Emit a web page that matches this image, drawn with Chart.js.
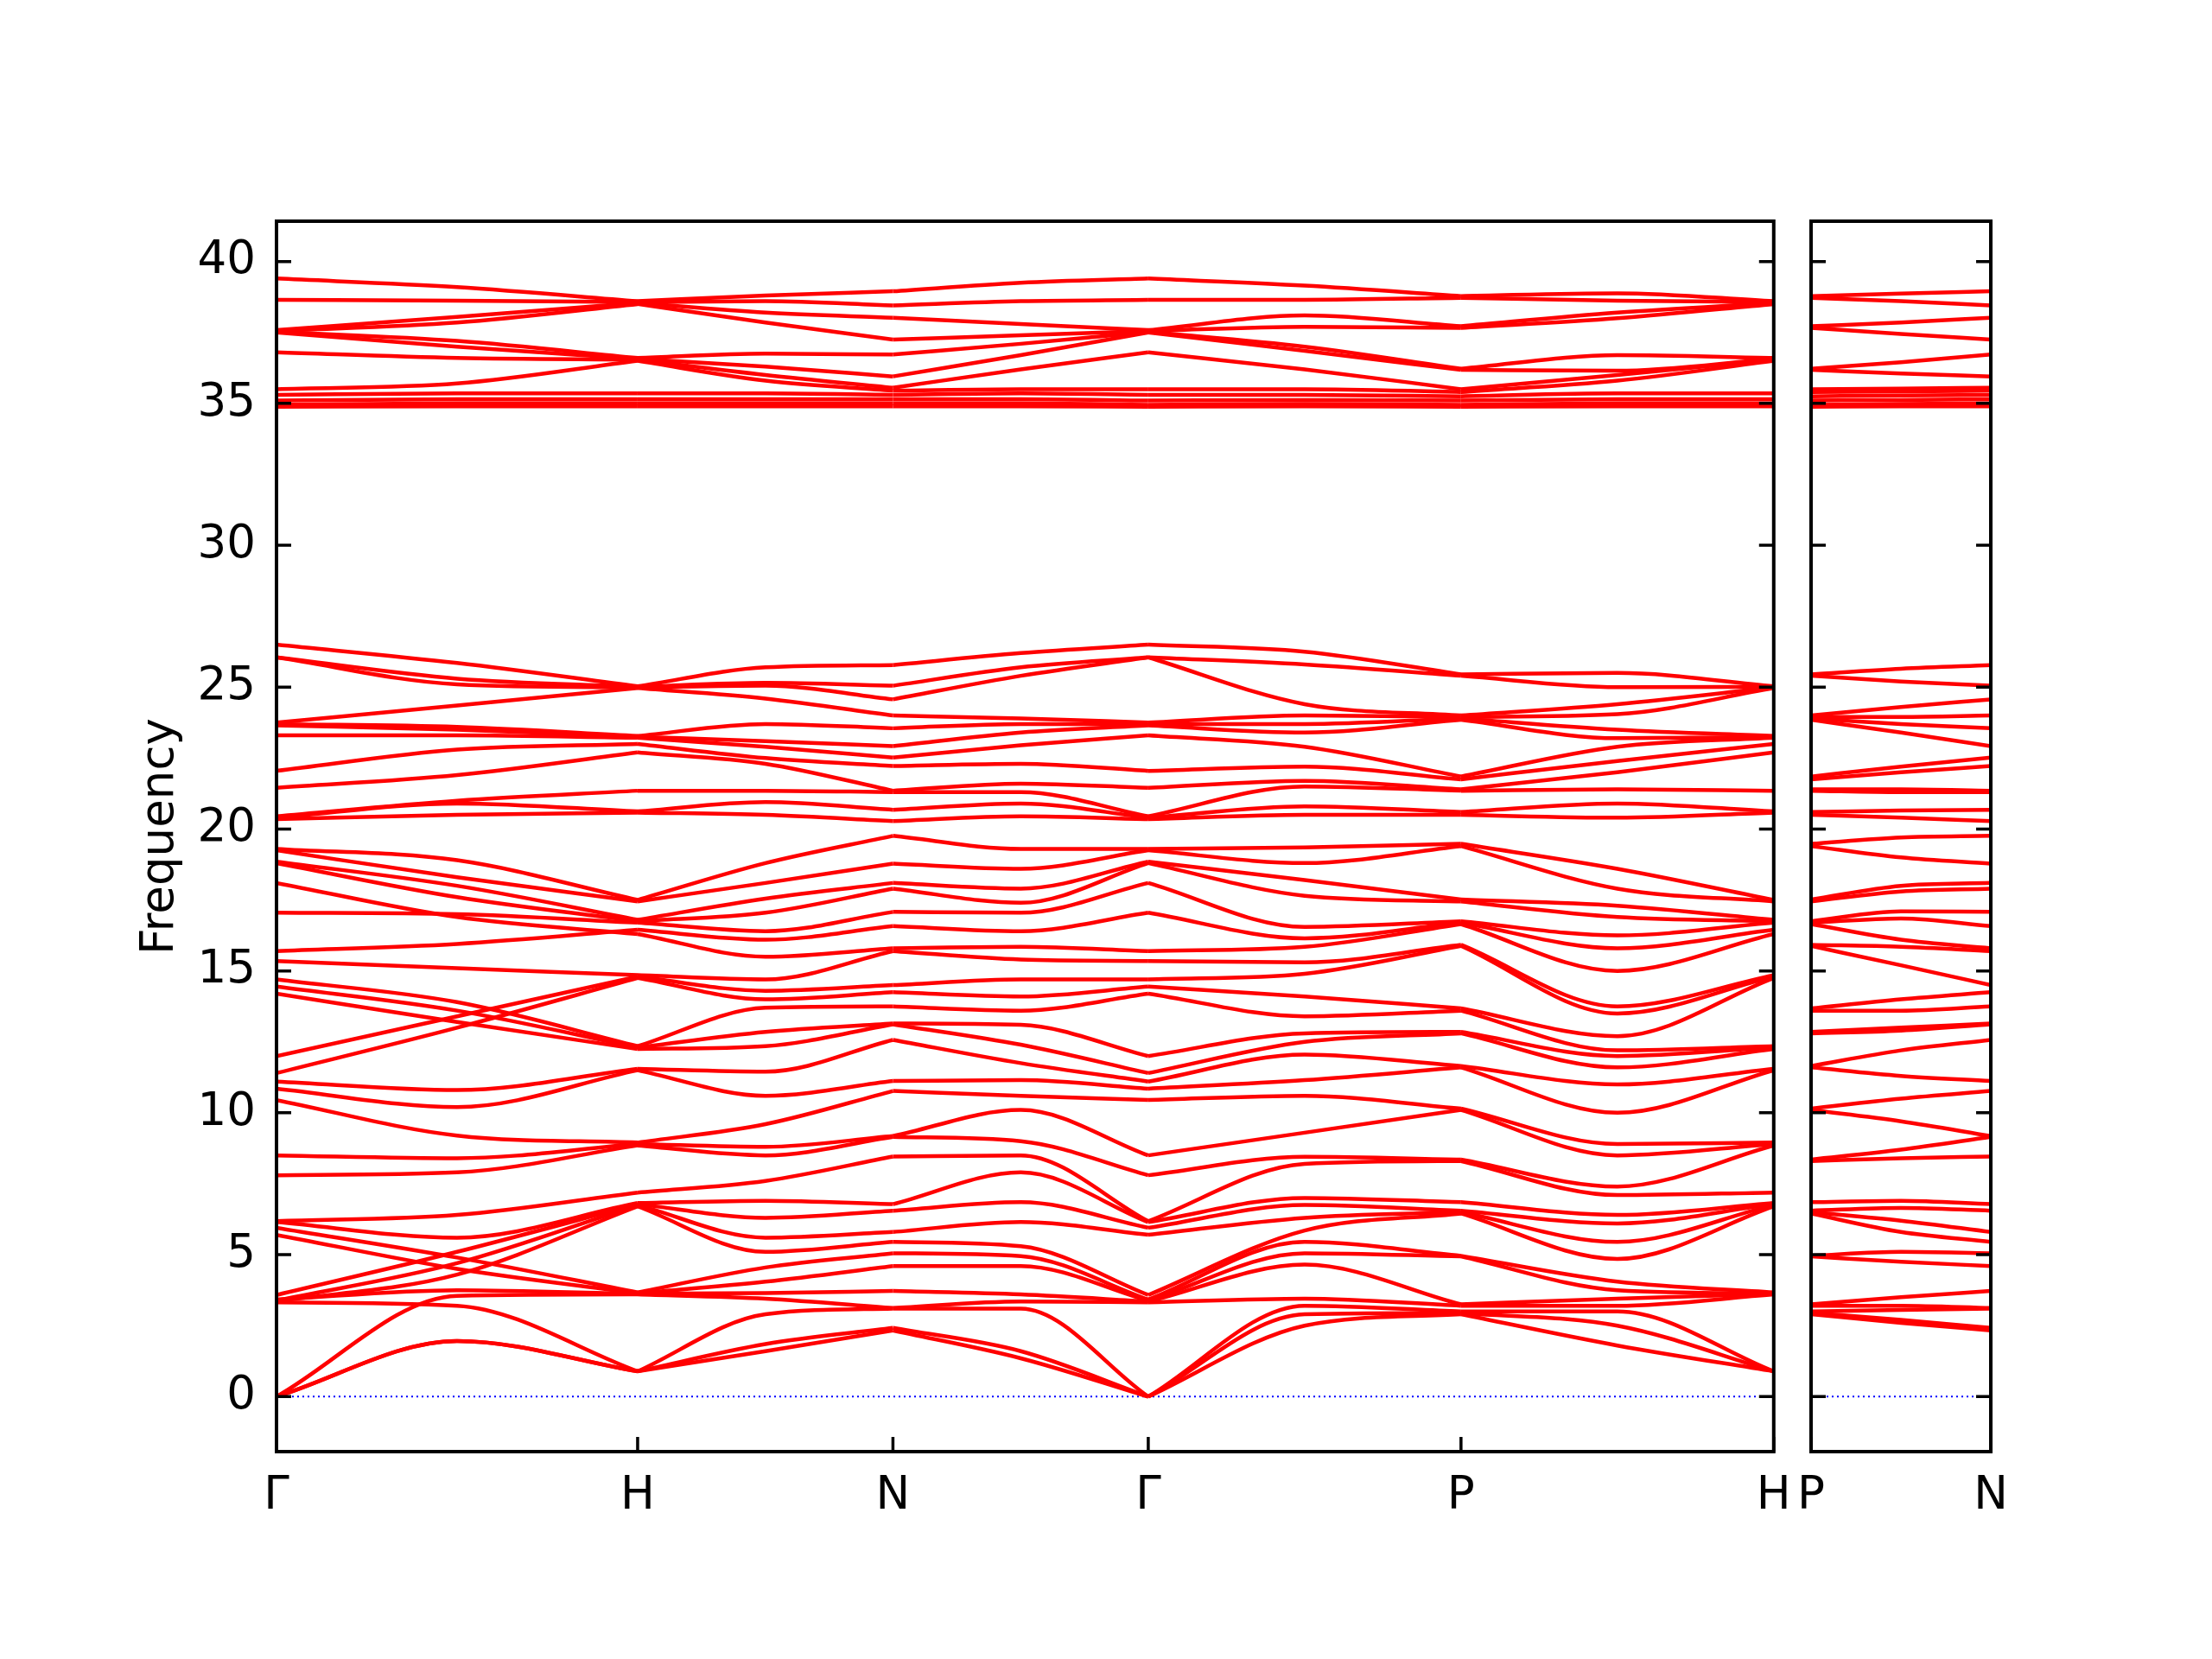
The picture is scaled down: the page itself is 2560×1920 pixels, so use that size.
<!DOCTYPE html>
<html>
<head>
<meta charset="utf-8">
<script src="https://cdn.jsdelivr.net/npm/chart.js@4.4.0/dist/chart.umd.min.js"></script>
<style>
  html, body { margin: 0; padding: 0; background: #fff; }
  #wrap { position: relative; width: 2560px; height: 1920px; }
  canvas { position: absolute; top: 0; }
  #main { left: 0; }
  #side { left: 2060px; }
</style>
</head>
<body>
<div id="wrap">
  <canvas id="main" width="2100" height="1920"></canvas>
  <canvas id="side" width="300" height="1920"></canvas>
</div>
<script>
// path distances along G-H-N-G-P-H (midpoints between the special points too)
const kMain = [0, 0.5, 1.0, 1.354, 1.707, 2.061, 2.414, 2.847, 3.280, 3.713, 4.146];
const kMainTicks = [0, 1.0, 1.707, 2.414, 3.280, 4.146];
const kMainLabels = ['Γ', 'H', 'N', 'Γ', 'P', 'H'];
// second panel P-N
const kSide = [0, 0.25, 0.5];
const kSideTicks = [0, 0.5];
const kSideLabels = ['P', 'N'];
const freqTicks = [0, 5, 10, 15, 20, 25, 30, 35, 40];

// frequencies at each k point, lowest band first
const wGamma = [0, 0, 0, 3.32, 3.35, 3.38, 3.42, 3.58, 5.7, 5.95, 6.15, 6.18, 7.8, 8.5, 10.45, 10.85, 11.1, 11.4, 12.0, 14.2, 14.45, 14.7, 15.35, 15.7, 17.05, 18.1, 18.8, 18.85, 19.25, 19.3,
  20.35, 20.4, 20.45, 21.45, 22.05, 23.3, 23.65, 23.7, 23.75, 26.05, 26.05, 26.5,
  34.88, 34.95, 35.1, 35.3, 35.5, 36.8, 37.5, 37.52, 37.55, 37.58, 38.65, 39.4];
// G-H midpoint, listed in the order of the bands at G (bands cross here)
const wGammaH = [1.96, 1.96, 3.55, 3.2, 4.3, 4.7, 3.75, 5.1, 4.5, 4.9, 5.6, 6.4, 7.9, 8.4, 9.2, 10.2, 10.8, 13.0, 13.4, 13.2, 13.6, 13.9, 15.1, 15.95, 17.0, 16.9, 17.6, 18.0, 18.3, 18.9,
  20.5, 20.9, 21.0, 21.9, 22.8, 23.3, 23.5, 23.6, 24.35, 25.1, 25.3, 25.85,
  34.9, 35.0, 35.15, 35.35, 35.7, 36.6, 37.0, 37.2, 37.85, 38.05, 38.62, 39.1];
// which band at H each G band runs into
const linkGH = [0, 1, 3, 2, 7, 8, 4, 9, 5, 6, 10, 11, 12, 13, 14, 15, 16, 20, 21, 17, 18, 19, 22, 24, 25, 23, 26, 27, 28, 29,
  30, 31, 32, 33, 34, 35, 36, 37, 38, 39, 40, 41,
  42, 43, 44, 45, 46, 47, 48, 49, 50, 51, 52, 53];
const wH = [0.89, 0.89, 0.89, 3.6, 3.62, 3.64, 3.67, 6.7, 6.75, 6.78, 6.82, 7.19, 8.85, 8.9, 8.95, 11.5, 11.55, 12.25, 12.3, 12.35, 14.75, 14.8, 14.85, 16.3, 16.45, 16.7, 16.75, 16.8, 17.45, 17.5,
  20.58, 20.62, 21.35, 22.7, 23.0, 23.22, 23.25, 23.28, 24.97, 24.99, 25.01, 25.03,
  34.9, 35.0, 35.15, 35.35, 36.5, 36.54, 36.57, 36.6, 38.5, 38.54, 38.57, 38.6];
const wHN = [1.6, 1.85, 2.9, 3.45, 3.65, 4.05, 4.55, 5.1, 5.6, 6.3, 6.9, 7.6, 8.5, 8.8, 9.6, 10.6, 11.45, 12.35, 12.85, 13.7, 14.0, 14.3, 14.7, 15.5, 16.1, 16.4, 17.05, 17.55, 18.1, 18.8,
  20.5, 20.95, 21.35, 22.3, 22.5, 22.9, 23.1, 23.7, 24.6, 25.05, 25.15, 25.7,
  34.9, 35.0, 35.15, 35.35, 35.8, 36.0, 36.3, 36.75, 37.85, 38.2, 38.6, 38.8];
const wN = [2.33, 2.42, 3.1, 3.12, 3.72, 4.6, 5.05, 5.45, 5.8, 6.55, 6.78, 8.46, 9.15, 9.18, 10.77, 11.12, 12.57, 13.12, 13.15, 13.75, 14.25, 14.5, 15.7, 15.8, 16.58, 17.08, 17.9, 18.1, 18.78, 19.76,
  20.28, 20.68, 21.3, 21.35, 22.22, 22.52, 22.92, 23.55, 24.0, 24.57, 25.05, 25.78,
  34.9, 35.0, 35.15, 35.3, 35.45, 35.55, 35.95, 36.72, 37.25, 38.02, 38.45, 38.95];
const wNGamma = [1.35, 1.6, 3.1, 3.35, 3.6, 4.6, 4.95, 5.3, 6.15, 6.85, 7.9, 8.5, 9.0, 10.1, 10.6, 11.15, 11.75, 12.4, 13.1, 13.6, 14.1, 14.7, 15.4, 15.85, 16.4, 17.05, 17.4, 17.9, 18.6, 19.3,
  20.45, 20.9, 21.3, 21.6, 22.3, 22.95, 23.4, 23.7, 23.9, 25.4, 25.7, 26.2,
  34.9, 35.0, 35.15, 35.35, 35.5, 36.2, 36.7, 37.1, 37.4, 37.8, 38.6, 39.25];
const wGammaP = [2.5, 2.9, 3.2, 3.45, 4.65, 5.05, 5.45, 5.85, 6.3, 6.75, 7.0, 8.2, 8.45, 9.3, 10.6, 11.15, 12.05, 12.5, 12.8, 13.4, 14.1, 14.9, 15.3, 15.85, 16.15, 16.55, 17.65, 18.2, 18.8, 19.35,
  20.5, 20.8, 21.5, 21.7, 22.2, 22.9, 23.4, 23.7, 24.0, 24.4, 25.8, 26.25,
  34.9, 34.98, 35.12, 35.3, 35.5, 36.2, 36.85, 37.0, 37.7, 38.1, 38.65, 39.15];
const wP = [2.9, 2.95, 3.0, 3.2, 3.25, 4.94, 4.96, 6.45, 6.5, 6.55, 6.85, 8.3, 8.35, 10.1, 10.15, 11.6, 11.65, 12.8, 12.85, 13.6, 13.68, 15.88, 15.92, 16.65, 16.7, 16.75, 17.45, 17.52, 19.4, 19.48,
  20.5, 20.6, 21.35, 21.4, 21.75, 21.85, 23.85, 23.9, 23.95, 24.0, 25.4, 25.45,
  34.88, 34.95, 35.1, 35.25, 35.4, 35.5, 36.18, 36.22, 37.66, 37.72, 38.72, 38.78];
const wPH = [1.8, 2.5, 3.0, 3.2, 3.45, 3.75, 4.05, 4.85, 5.45, 6.1, 6.4, 7.1, 7.4, 8.5, 8.9, 10.0, 11.0, 11.6, 12.0, 12.2, 12.7, 13.5, 13.75, 15.0, 15.8, 16.25, 16.9, 17.3, 17.9, 18.6,
  20.4, 20.9, 21.4, 22.0, 22.4, 22.9, 23.2, 23.5, 24.05, 24.4, 25.0, 25.5,
  34.9, 35.0, 35.15, 35.35, 35.8, 36.0, 36.15, 36.7, 38.0, 38.2, 38.62, 38.88];
const wPN = [2.6, 2.7, 3.05, 3.2, 3.5, 4.75, 5.1, 5.8, 6.2, 6.65, 6.9, 8.4, 8.7, 9.7, 10.5, 11.3, 12.2, 12.9, 13.0, 13.6, 14.0, 15.2, 15.85, 16.1, 16.85, 17.1, 17.8, 18.0, 19.0, 19.7,
  20.4, 20.65, 21.3, 21.4, 22.0, 22.2, 23.4, 23.7, 23.95, 24.3, 25.2, 25.65,
  34.9, 34.98, 35.12, 35.28, 35.42, 35.52, 36.05, 36.45, 37.45, 37.85, 38.6, 38.87];

const mainCols = [wGamma, wGammaH, wH, wHN, wN, wNGamma, wGamma, wGammaP, wP, wPH, wH];
const sideCols = [wP, wPN, wN];
// each path segment is drawn on its own, so bands may kink at the special points
const mainSegs = [
  { idx: [0, 1, 2], link: linkGH },
  { idx: [2, 3, 4] },
  { idx: [4, 5, 6] },
  { idx: [6, 7, 8] },
  { idx: [8, 9, 10] }
];
const sideSegs = [{ idx: [0, 1, 2] }];

const font = { family: 'DejaVu Sans', size: 53 };

function bandSets(kList, cols, segs) {
  let sets = [];
  segs.forEach(seg => {
    const [a, m, e] = seg.idx;
    for (let b = 0; b < cols[a].length; b++) {
      const to = seg.link ? seg.link[b] : b;
      sets.push({
        data: [
          { x: kList[a], y: cols[a][b] },
          { x: kList[m], y: cols[m][b] },
          { x: kList[e], y: cols[e][to] }
        ],
        borderColor: '#ff0000',
        borderWidth: 4.5,
        pointRadius: 0,
        cubicInterpolationMode: 'monotone',
        order: 0
      });
    }
  });
  // dotted zero line
  sets.push({
    data: [{ x: kList[0], y: 0 }, { x: kList[kList.length - 1], y: 0 }],
    borderColor: '#0000ff',
    borderWidth: 2,
    borderDash: [2, 4],
    pointRadius: 0,
    order: 1
  });
  return sets;
}

// box round the plot and inward ticks
const frame = {
  id: 'frame',
  afterDatasetsDraw(chart, args, opts) {
    const { ctx, chartArea: a, scales } = chart;
    ctx.save();
    ctx.strokeStyle = '#000';
    ctx.lineWidth = 4;
    ctx.strokeRect(a.left, a.top, a.right - a.left, a.bottom - a.top);
    ctx.lineWidth = 3.5;
    ctx.beginPath();
    freqTicks.forEach(v => {
      const py = scales.y.getPixelForValue(v);
      ctx.moveTo(a.left, py); ctx.lineTo(a.left + 17, py);
      ctx.moveTo(a.right, py); ctx.lineTo(a.right - 17, py);
    });
    opts.kTicks.forEach(v => {
      const px = scales.x.getPixelForValue(v);
      ctx.moveTo(px, a.bottom); ctx.lineTo(px, a.bottom - 17);
    });
    ctx.stroke();
    ctx.restore();
  }
};

function xAxis(kList, kTicks, labels) {
  return {
    type: 'linear',
    min: kList[0],
    max: kList[kList.length - 1],
    afterBuildTicks: s => { s.ticks = kTicks.map(v => ({ value: v })); },
    afterFit: s => { s.height = 120; },
    grid: { display: false, drawTicks: false },
    border: { display: false },
    ticks: {
      autoSkip: false, maxRotation: 0, padding: 20, color: '#000', font: font,
      callback: (v, i) => labels[i]
    }
  };
}

function yAxis(show) {
  return {
    type: 'linear',
    display: show,
    min: -1.94,
    max: 41.42,
    afterBuildTicks: s => { s.ticks = freqTicks.map(v => ({ value: v })); },
    afterFit: s => { s.width = show ? 320 : 0; },
    grid: { display: false, drawTicks: false },
    border: { display: false },
    ticks: { padding: 24, color: '#000', font: font },
    title: { display: show, text: 'Frequency', color: '#000', font: font, padding: { top: 154, bottom: 0 } }
  };
}

function makeChart(id, kList, cols, segs, kTicks, labels, area, showY) {
  const opts = {
    responsive: false,
    animation: false,
    devicePixelRatio: 1,
    events: [],
    layout: { padding: { left: showY ? 0 : area.left, right: 20, top: 256, bottom: 120 } },
    plugins: { legend: { display: false }, tooltip: { enabled: false }, frame: { kTicks: kTicks } },
    scales: { x: xAxis(kList, kTicks, labels), y: yAxis(showY) }
  };
  const chart = new Chart(document.getElementById(id), {
    type: 'line',
    data: { datasets: bandSets(kList, cols, segs) },
    options: opts,
    plugins: [frame]
  });
  // nudge the padding until the plot box sits where the figure has it
  for (let i = 0; i < 3; i++) {
    const a = chart.chartArea;
    opts.layout.padding.left += area.left - a.left;
    opts.layout.padding.right += a.right - area.right;
    chart.update();
  }
  return chart;
}

let mainChart = makeChart('main', kMain, mainCols, mainSegs, kMainTicks, kMainLabels,
  { left: 320, right: 2051 }, true);
let sideChart = makeChart('side', kSide, sideCols, sideSegs, kSideTicks, kSideLabels,
  { left: 35, right: 244 }, false);
</script>
</body>
</html>
